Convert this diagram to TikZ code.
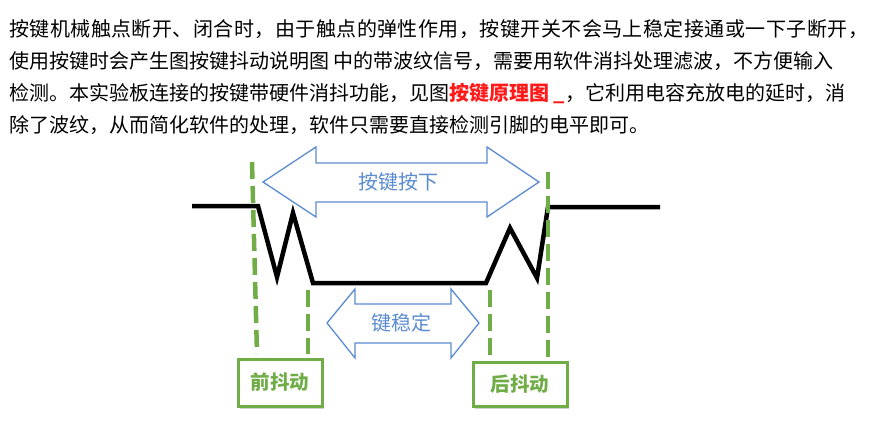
\documentclass[tikz,border=0pt]{standalone}
\usepackage{fontspec}
\setmainfont{Noto Sans CJK SC}
\usepackage{xcolor}
\usetikzlibrary{shadows}

\definecolor{keygreen}{HTML}{70AD47}
\definecolor{keyblue}{HTML}{5B8BD0}
\definecolor{keyred}{HTML}{FF1A1A}

\begin{document}
\begin{tikzpicture}[
  x=1pt, y=-1pt,
  para/.style={anchor=west, inner sep=0pt, font=\fontsize{20}{24}\selectfont},
  signal/.style={line width=4.5pt, draw=black},
  edge/.style={draw=keygreen, line width=4.5pt, dash pattern=on 17pt off 7pt},
  span/.style={draw=keyblue, line width=1.3pt, fill=white},
  spanlabel/.style={text=keyblue, inner sep=0pt, font=\fontsize{20}{24}\selectfont},
  phase/.style={rectangle, draw=keygreen, line width=3pt, fill=white, text=keygreen, font=\fontsize{19.5}{22}\selectfont\bfseries, inner sep=0pt, drop shadow={shadow xshift=1.5pt, shadow yshift=-2.5pt, opacity=0.3, fill=black!60}}
]

\useasboundingbox (0,0) rectangle (880,434);

% ---------------------------------------------------
% Paragraph
% ---------------------------------------------------
\node[para] (lineA) at (9,29) {\addfontfeatures{LetterSpace=2.3}按键机械触点断开、闭合时，由于触点的弹性作用，按键开关不会马上稳定接通或一下子断开，};
\node[para] (lineB) at (9,61) {使用按键时会产生图按键抖动说明图 中的带波纹信号，需要用软件消抖处理滤波，不方便输入};
\node[para] (lineC) at (9,93) {检测。本实验板连接的按键带硬件消抖功能，见图{\color{keyred}\bfseries 按键原理图 \_}，它利用电容充放电的延时，消};
\node[para] (lineD) at (9,125) {除了波纹，从而简化软件的处理，软件只需要直接检测引脚的电平即可。};

% ---------------------------------------------------
% Span arrows
% ---------------------------------------------------
\draw[span] (263,182) -- (316,147) -- (316,163) -- (487,163) -- (487,147) -- (539,182)
  -- (487,217) -- (487,202) -- (316,202) -- (316,217) -- cycle;
\node[spanlabel] (pressed) at (398,182) {按键按下};

\draw[span] (327,323) -- (355,289) -- (355,304) -- (451,304) -- (451,289) -- (479,323)
  -- (451,358) -- (451,343) -- (355,343) -- (355,358) -- cycle;
\node[spanlabel] (stable) at (401,323) {键稳定};

% ---------------------------------------------------
% Key signal
% ---------------------------------------------------
\draw[signal] (192,206) -- (258,206) -- (277,277) -- (293,213) -- (313,283) -- (486,283)
  -- (510,228) -- (537,278) -- (548,207) -- (660,207);

% ---------------------------------------------------
% Edge markers
% ---------------------------------------------------
\coordinate (pressTop) at (252,162);
\coordinate (pressBot) at (257,354);
\coordinate (settleTop) at (308,290);
\coordinate (settleBot) at (308,354);
\coordinate (releaseTop) at (490,290);
\coordinate (releaseBot) at (490,356);
\coordinate (freeTop) at (548,172);
\coordinate (freeBot) at (548,360);

\draw[edge] (pressTop) -- (pressBot);
\draw[edge] (settleTop) -- (settleBot);
\draw[edge] (releaseTop) -- (releaseBot);
\draw[edge] (freeTop) -- (freeBot);

% ---------------------------------------------------
% Bounce boxes
% ---------------------------------------------------
\node[phase, minimum width=84pt, minimum height=47pt] (front) at (280,382.5) {前抖动};
\node[phase, minimum width=94pt, minimum height=44pt] (back) at (520,384) {后抖动};

\end{tikzpicture}
\end{document}
